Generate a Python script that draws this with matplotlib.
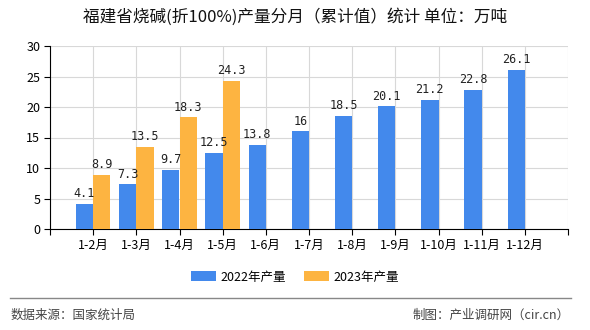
import numpy as np
import matplotlib.pyplot as plt

plt.rcParams['font.family'] = ['Noto Sans CJK SC', 'DejaVu Sans']

# data
months = ["1-2月", "1-3月", "1-4月", "1-5月", "1-6月", "1-7月", "1-8月",
          "1-9月", "1-10月", "1-11月", "1-12月"]
prod_2022 = [4.1, 7.3, 9.7, 12.5, 13.8, 16, 18.5, 20.1, 21.2, 22.8, 26.1]
prod_2023 = [8.9, 13.5, 18.3, 24.3]
label_2022 = "2022年产量"
label_2023 = "2023年产量"

c_blue = "#4389ec"
c_orange = "#fdb441"

fig = plt.figure(figsize=(5.9, 3.3), dpi=100)
ax = fig.add_axes([50/590, 101/330, 518/590, 183/330])

x = np.arange(1, len(months) + 1)
w = 0.4
b1 = ax.bar(x - w/2, prod_2022, w, color=c_blue, label=label_2022, zorder=3)
x2 = x[:len(prod_2023)]
b2 = ax.bar(x2 + w/2, prod_2023, w, color=c_orange, label=label_2023, zorder=3)

for xi, v in zip(x - w/2, prod_2022):
    ax.text(xi, v + 0.6, "%g" % v, ha="center", va="bottom", fontsize=8.5,
            family="DejaVu Sans Mono", color="#222222")
for xi, v in zip(x2 + w/2, prod_2023):
    ax.text(xi, v + 0.6, "%g" % v, ha="center", va="bottom", fontsize=8.5,
            family="DejaVu Sans Mono", color="#222222")

ax.set_xlim(0, len(months) + 1)
ax.set_ylim(0, 30)
ax.set_yticks(np.arange(0, 31, 5))
ax.set_xticks(np.arange(0, len(months) + 2))
ax.set_xticklabels([""] + months + [""])
ax.tick_params(axis="both", labelsize=9, length=4, color="black", pad=3)
ax.grid(True, color="#d8d8d8", linewidth=0.8, zorder=0)
for s in ["top", "right"]:
    ax.spines[s].set_visible(False)

fig.text(0.5, 1 - 17/330, "福建省烧碱(折100%)产量分月（累计值）统计 单位：万吨",
         ha="center", va="center", fontsize=12, color="#111111")

fig.legend(handles=[b1, b2], loc="center", bbox_to_anchor=(0.5, 1 - 277/330),
           ncol=2, frameon=False, fontsize=9, handlelength=2.0, handleheight=0.8,
           columnspacing=1.5, handletextpad=0.3)

fig.add_artist(plt.Line2D([10/590, 571/590], [1 - 298/330] * 2, color="#888888",
                          linewidth=1.0, transform=fig.transFigure))
fig.text(11/590, 1 - 315/330, "数据来源：国家统计局", ha="left", va="center",
         fontsize=9, color="#444444")
fig.text(570/590, 1 - 315/330, "制图：产业调研网（cir.cn）", ha="right", va="center",
         fontsize=9, color="#444444")

fig.savefig("out.png", dpi=100)
